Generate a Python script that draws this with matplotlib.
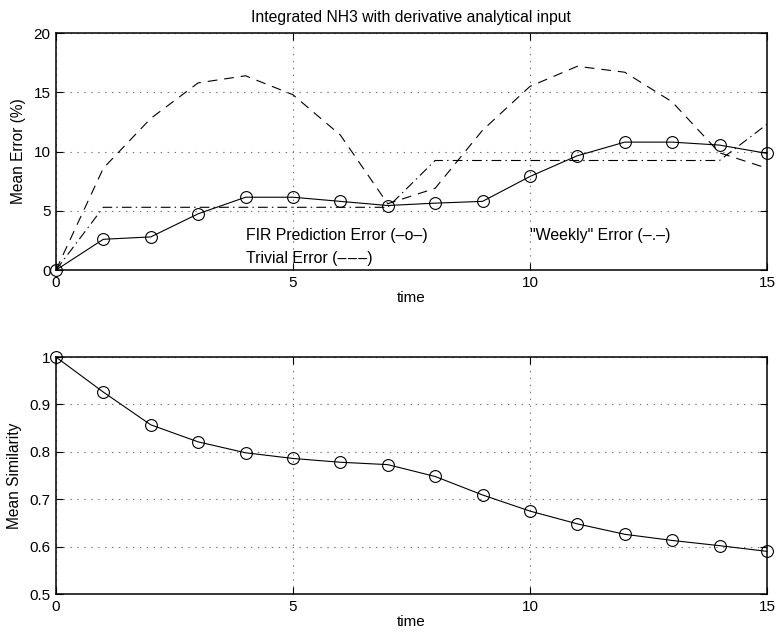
import numpy as np
import matplotlib
matplotlib.use("Agg")
import matplotlib.pyplot as plt

plt.rcParams['font.family'] = ['Liberation Sans', 'DejaVu Sans']
plt.rcParams['lines.scale_dashes'] = False

# data
time = list(range(16))
fir_error = [0, 2.6, 2.8, 4.75, 6.15, 6.15, 5.8, 5.45, 5.65, 5.8,
             7.9, 9.65, 10.8, 10.8, 10.55, 9.85]
trivial_error = [0, 8.6, 12.8, 15.8, 16.4, 14.8, 11.4, 5.6, 6.9, 11.8,
                 15.5, 17.2, 16.7, 14.2, 9.9, 8.6]
weekly_error = [0, 5.3, 5.3, 5.3, 5.3, 5.3, 5.3, 5.3, 9.25, 9.25,
                9.25, 9.25, 9.25, 9.25, 9.25, 12.3]
similarity = [1.0, 0.926, 0.857, 0.821, 0.798, 0.786, 0.778, 0.773, 0.748, 0.709,
              0.675, 0.648, 0.626, 0.613, 0.602, 0.590]

fig = plt.figure(figsize=(7.77, 6.37), dpi=100)
ax1 = fig.add_axes([0.072, 0.576, 0.915, 0.372])
ax2 = fig.add_axes([0.072, 0.0675, 0.915, 0.372])


def style_axes(ax):
    ax.grid(True, linestyle=(0, (1, 4)), color='0.45', linewidth=0.8)
    ax.tick_params(direction='in', top=True, right=True, length=5,
                   width=0.8, labelsize=11, pad=4)
    for s in ax.spines.values():
        s.set_linewidth(1.1)
    ax.set_xlim(0, 15)
    ax.set_xticks([0, 5, 10, 15])
    ax.set_xlabel('time', fontsize=11, labelpad=1)


ax1.plot(time, fir_error, '-', color='k', lw=0.8, marker='o', ms=8.5,
         mfc='none', mew=0.8, zorder=3, clip_on=False)
ax1.plot(time, trivial_error, color='k', lw=0.8, dashes=(7, 5))
ax1.plot(time, weekly_error, color='k', lw=0.8, dashes=(7, 3, 1, 3))
ax1.set_ylim(0, 20)
ax1.set_yticks([0, 5, 10, 15, 20])
style_axes(ax1)
ax1.set_ylabel('Mean Error (%)', fontsize=11.2, labelpad=5)
ax1.set_title('Integrated NH3 with derivative analytical input', fontsize=11.3, pad=8)
ax1.text(4.0, 2.9, 'FIR Prediction Error (\u2013o\u2013)', fontsize=11.4, va='center')
ax1.text(4.0, 0.95, 'Trivial Error (\u2013\u200a\u2013\u200a\u2013)', fontsize=11.4, va='center')
ax1.text(10.0, 2.9, '"Weekly" Error (\u2013.\u2013)', fontsize=11.4, va='center')

ax2.plot(time, similarity, '-', color='k', lw=0.8, marker='o', ms=8.5,
         mfc='none', mew=0.8, zorder=3, clip_on=False)
ax2.set_ylim(0.5, 1.0)
ax2.set_yticks([0.5, 0.6, 0.7, 0.8, 0.9, 1.0])
ax2.set_yticklabels(['0.5', '0.6', '0.7', '0.8', '0.9', '1'])
style_axes(ax2)
ax2.set_ylabel('Mean Similarity', fontsize=11.2, labelpad=5)

fig.savefig('out.png', dpi=100)
